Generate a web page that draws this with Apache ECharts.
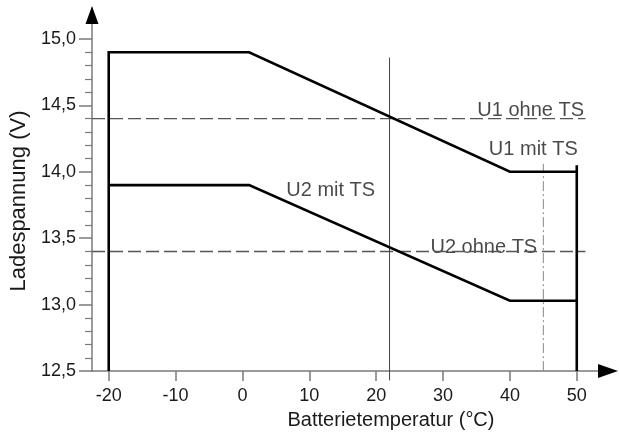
<!DOCTYPE html>
<html>
<head>
<meta charset="utf-8">
<script src="https://cdn.jsdelivr.net/npm/echarts@6/dist/echarts.min.js"></script>
<style>
  html, body { margin: 0; padding: 0; background: #fff; }
  #main { width: 619px; height: 435px; }
</style>
</head>
<body>
<div id="main"></div>
<script>
// charge voltage vs battery temperature
var FONT = '"Liberation Sans", Arial, sans-serif';

var xTicks = [-20, -10, 0, 10, 20, 30, 40, 50];
var yTicks = [12.5, 13.0, 13.5, 14.0, 14.5, 15.0];
var yMinorTicks = [12.6, 12.7, 12.8, 12.9, 13.1, 13.2, 13.3, 13.4, 13.6, 13.7, 13.8, 13.9,
                   14.1, 14.2, 14.3, 14.4, 14.6, 14.7, 14.8, 14.9];

// U1 mit TS (incl. left edge at -20)
var u1Temp = [-20, -20, 1, 40, 50];
var u1Volt = [12.5, 14.9, 14.9, 14.0, 14.0];
// U2 mit TS
var u2Temp = [-20, 1, 40, 50];
var u2Volt = [13.9, 13.9, 13.03, 13.03];
// right edge at 50
var edgeTemp = [50, 50];
var edgeVolt = [12.5, 14.05];
// reference levels without TS
var ohneTemp = [-22.5, 51.3];
var u1OhneVolt = [14.4, 14.4];
var u2OhneVolt = [13.4, 13.4];
// thin marker at 22 °C and dash-dot at 45 °C
var markTemp = [22, 22];
var markVolt = [12.43, 14.86];
var limitTemp = [45, 45];
var limitVolt = [12.5, 14.06];

var labelTexts = ['U1 ohne TS', 'U1 mit TS', 'U2 mit TS', 'U2 ohne TS'];
var labelTemps = [43.1, 43.5, 13.2, 36.1];
var labelVolts = [14.465, 14.165, 13.86, 13.43];

function pairs(xs, ys) {
  return xs.map(function (x, i) { return [x, ys[i]]; });
}

function lineSeries(xs, ys, color, width, type, clip) {
  return {
    type: 'line',
    data: pairs(xs, ys),
    symbol: 'none',
    clip: clip !== false,
    silent: true,
    lineStyle: { color: color, width: width, type: type || 'solid', join: 'miter', cap: 'butt' }
  };
}

var chart = echarts.init(document.getElementById('main'));

var option = {
  animation: false,
  backgroundColor: '#fff',
  textStyle: { fontFamily: FONT },
  grid: { left: 89.3, right: 11, top: 15, bottom: 59.3 },
  xAxis: [
    {
      type: 'value',
      min: -22.5,
      max: 54.67,
      position: 'bottom',
      name: 'Batterietemperatur (°C)',
      nameLocation: 'middle',
      nameGap: 36,
      nameTextStyle: { fontSize: 20, color: '#1a1a1a', fontFamily: FONT, padding: [0, 0, 0, 82] },
      axisLine: { onZero: false, lineStyle: { color: '#7a7a7a', width: 1.5 } },
      axisTick: { show: true, customValues: xTicks, length: 10, lineStyle: { color: '#7a7a7a', width: 1.5 } },
      axisLabel: { customValues: xTicks, margin: 16, fontSize: 18, color: '#1a1a1a', fontFamily: FONT },
      splitLine: { show: false }
    },
    {
      // black arrow head only
      type: 'value',
      min: -22.5,
      max: 54.67,
      position: 'bottom',
      axisLine: { onZero: false, symbol: ['none', 'triangle'], symbolSize: [14, 20], symbolOffset: [0, 0],
                  lineStyle: { color: '#000', width: 0 } },
      axisTick: { show: false },
      axisLabel: { show: false },
      splitLine: { show: false }
    }
  ],
  yAxis: [
    {
      type: 'value',
      min: 12.5,
      max: 15.18,
      position: 'left',
      name: 'Ladespannung (V)',
      nameLocation: 'middle',
      nameGap: 62,
      nameTextStyle: { fontSize: 22, color: '#1a1a1a', fontFamily: FONT, padding: [0, 16, 0, 0] },
      axisLine: { onZero: false, lineStyle: { color: '#7a7a7a', width: 1.5 } },
      axisTick: { show: true, customValues: yTicks, length: 13, lineStyle: { color: '#7a7a7a', width: 1.5 } },
      axisLabel: {
        customValues: yTicks, margin: 16, fontSize: 18, color: '#1a1a1a', fontFamily: FONT,
        formatter: function (v) { return v.toFixed(1).replace('.', ','); }
      },
      splitLine: { show: false }
    },
    {
      // minor ticks + black arrow head
      type: 'value',
      min: 12.5,
      max: 15.18,
      position: 'left',
      axisLine: { onZero: false, symbol: ['none', 'triangle'], symbolSize: [13, 18], symbolOffset: [0, 0],
                  lineStyle: { color: '#000', width: 0 } },
      axisTick: { show: true, customValues: yMinorTicks, length: 7, lineStyle: { color: '#7a7a7a', width: 1.2 } },
      axisLabel: { show: false },
      splitLine: { show: false }
    }
  ],
  series: [
    lineSeries(ohneTemp, u1OhneVolt, '#555', 1.3, [13, 5]),
    lineSeries(ohneTemp, u2OhneVolt, '#555', 1.3, [13, 5]),
    lineSeries(markTemp, markVolt, '#444', 1, 'solid', false),
    lineSeries(limitTemp, limitVolt, '#888', 1, [10, 3, 2, 3]),
    lineSeries(u1Temp, u1Volt, '#000', 2.6),
    lineSeries(u2Temp, u2Volt, '#000', 2.6),
    lineSeries(edgeTemp, edgeVolt, '#000', 2.6),
    {
      type: 'scatter',
      symbolSize: 0,
      silent: true,
      data: labelTexts.map(function (t, i) {
        return { name: t, value: [labelTemps[i], labelVolts[i]] };
      }),
      label: {
        show: true,
        position: 'inside',
        formatter: '{b}',
        fontSize: 20,
        color: '#1a1a1a',
        fontFamily: FONT
      }
    }
  ]
};

chart.setOption(option);
</script>
</body>
</html>
